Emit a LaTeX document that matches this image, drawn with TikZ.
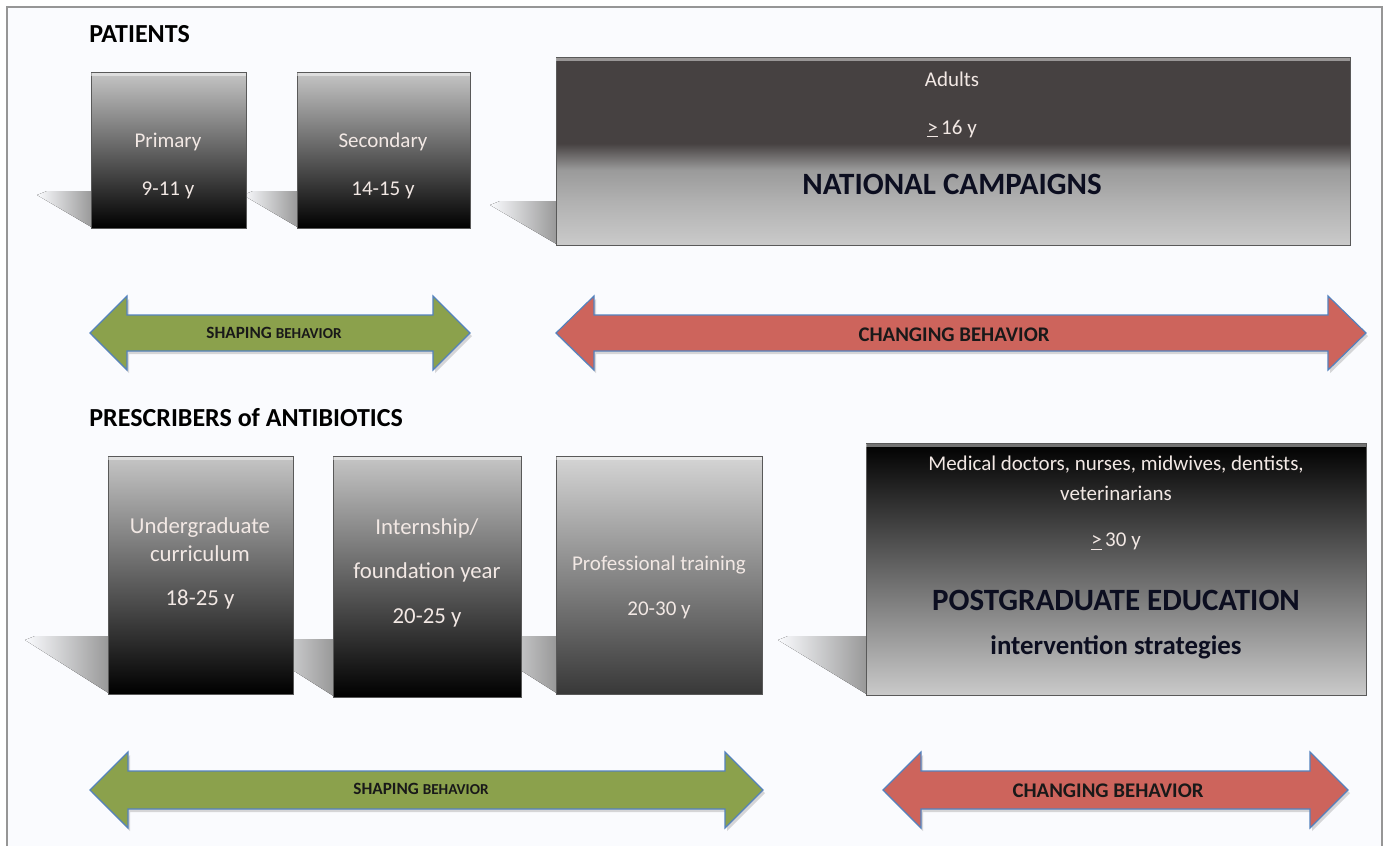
\documentclass[tikz,border=0pt]{standalone}
\usepackage{fontspec}
\setmainfont{Carlito}
\usetikzlibrary{shadows,calc}

\definecolor{bgpanel}{RGB}{250,251,254}
\definecolor{framegray}{RGB}{150,150,150}
\definecolor{shapegreen}{RGB}{139,161,76}
\definecolor{shapered}{RGB}{205,100,92}
\definecolor{arrowrim}{RGB}{84,130,190}
\definecolor{boxtxt}{RGB}{242,232,228}
\definecolor{navytxt}{RGB}{12,14,32}
\definecolor{natdark}{RGB}{70,65,65}
\definecolor{natmid}{RGB}{154,154,154}
\definecolor{natpale}{RGB}{176,176,176}
\definecolor{natlight}{RGB}{202,202,202}

\pgfdeclareverticalshading{natshade}{100bp}{color(0bp)=(natlight); color(25bp)=(natlight); color(37bp)=(natpale); color(45bp)=(natmid); color(52bp)=(natdark); color(100bp)=(natdark)}

\pgfdeclarelayer{bg}
\pgfdeclarelayer{shade}
\pgfsetlayers{bg,shade,main}

\begin{document}
\begin{tikzpicture}[x=0.5pt, y=-0.5pt,
    stagebox/.style={draw=black!65, line width=0.5pt, inner sep=0pt, outer sep=0pt, top color=gray!45, bottom color=black},
    boxtext/.style={text=boxtxt, font=\fontsize{10.5}{13}\selectfont, align=center, inner sep=1pt},
    bigtext/.style={text=navytxt, font=\fontsize{15.5}{18}\selectfont\bfseries, inner sep=1pt},
    heading/.style={font=\fontsize{13}{15}\selectfont\bfseries, anchor=west, inner sep=0pt},
    arrowlabel/.style={font=\fontsize{10.4}{12}\selectfont\bfseries, text=black!90, inner sep=1pt},
    twoway/.style={draw=arrowrim, line width=0.6pt, line join=miter, drop shadow={shadow xshift=1pt, shadow yshift=-1.6pt, opacity=.3}},
    shadowfill/.style={left color=bgpanel, right color=gray!82}]

  \useasboundingbox (0,0) rectangle (1384,846);
  \begin{pgfonlayer}{bg}
    \fill[bgpanel] (7,7) rectangle (1382,846);
    \draw[framegray, line width=1pt] (7,846) -- (7,7) -- (1382,7) -- (1382,846);
  \end{pgfonlayer}

  % patients
  \node[heading] (patients) at (89,34) {PATIENTS};

  \node[stagebox, minimum width=77.5pt, minimum height=78pt] (prim) at (168.5,150) {};
  \node[stagebox, minimum width=86.5pt, minimum height=78pt] (sec) at (383.5,150) {};
  \node[stagebox, shading=natshade, minimum width=397pt, minimum height=94pt] (nat) at (953,151) {};

  \node[boxtext] (prim-name) at (168,142) {Primary};
  \node[boxtext] (prim-age) at (168,190) {9-11 y};
  \node[boxtext] (sec-name) at (383,142) {Secondary};
  \node[boxtext] (sec-age) at (383,190) {14-15 y};
  \node[boxtext] (nat-who) at (952,79) {Adults};
  \node[boxtext] (nat-age) at (952,129) {\underline{>}\,16 y};
  \node[bigtext] (nat-title) at (952,184) {NATIONAL CAMPAIGNS};

  % arrows, upper row
  \draw[twoway, fill=shapegreen] (90,333) -- (127,296) -- (127,315) -- (433,315) -- (433,296) -- (470,333)
    -- (433,370) -- (433,351) -- (127,351) -- (127,370) -- cycle;
  \draw[twoway, fill=shapered] (556,333) -- (594,296) -- (594,315) -- (1328,315) -- (1328,296) -- (1366,333)
    -- (1328,370) -- (1328,351) -- (594,351) -- (594,370) -- cycle;
  \node[arrowlabel] (shape-up) at (274,333) {\fontsize{8.6}{10}\selectfont SHAPING \fontsize{7.6}{9}\selectfont BEHAVIOR};
  \node[arrowlabel] (change-up) at (954,335) {CHANGING BEHAVIOR};

  % prescribers
  \node[heading] (prescribers) at (89,418) {PRESCRIBERS of ANTIBIOTICS};

  \node[stagebox, minimum width=92.5pt, minimum height=119pt] (ugrad) at (200.5,575) {};
  \node[stagebox, minimum width=94pt, minimum height=120.5pt] (intern) at (427,576.5) {};
  \node[stagebox, top color=gray!33, bottom color=black!78, minimum width=103pt, minimum height=119pt] (prof) at (659,575) {};
  \node[stagebox, top color=black, middle color=black!72, bottom color=gray!42, minimum width=250pt, minimum height=126pt] (pgrad) at (1116,569) {};

  \node[boxtext, font=\fontsize{11.4}{14}\selectfont] (ugrad-name) at (200,540) {Undergraduate\\curriculum};
  \node[boxtext, font=\fontsize{11.4}{14}\selectfont] (ugrad-age) at (200,600) {18-25 y};
  \node[boxtext, font=\fontsize{11.4}{22}\selectfont] (intern-name) at (427,550) {Internship/\\foundation year};
  \node[boxtext, font=\fontsize{11.4}{14}\selectfont] (intern-age) at (427,618) {20-25 y};
  \node[boxtext] (prof-name) at (659,565) {Professional training};
  \node[boxtext] (prof-age) at (659,610) {20-30 y};
  \node[boxtext, font=\fontsize{10.5}{15}\selectfont] (pgrad-who) at (1116,478) {Medical doctors, nurses, midwives, dentists,\\veterinarians};
  \node[boxtext] (pgrad-age) at (1116,542) {\underline{>}\,30 y};
  \node[bigtext] (pgrad-title) at (1116,600) {POSTGRADUATE EDUCATION};
  \node[bigtext, font=\fontsize{13.4}{16}\selectfont\bfseries] (pgrad-sub) at (1116,647) {intervention strategies};

  % arrows, lower row
  \draw[twoway, fill=shapegreen] (90,790) -- (128,752) -- (128,771) -- (725,771) -- (725,752) -- (763,790)
    -- (725,828) -- (725,809) -- (128,809) -- (128,828) -- cycle;
  \draw[twoway, fill=shapered] (883,790) -- (921,752) -- (921,771) -- (1310,771) -- (1310,752) -- (1348,790)
    -- (1310,828) -- (1310,809) -- (921,809) -- (921,828) -- cycle;
  \node[arrowlabel] (shape-low) at (421,789) {\fontsize{8.6}{10}\selectfont SHAPING \fontsize{7.6}{9}\selectfont BEHAVIOR};
  \node[arrowlabel] (change-low) at (1108,791) {CHANGING BEHAVIOR};

  % bevel highlights and floor shadows
  \foreach \b in {prim,sec,nat,ugrad,intern,prof,pgrad}
    \draw[white, opacity=.45, line width=1.4pt] ([yshift=-1.2pt]\b.north west) -- ([yshift=-1.2pt]\b.north east);
  \begin{pgfonlayer}{shade}
    \foreach \b/\dx/\dy in {prim/54/33, sec/54/33, nat/66/40, ugrad/83/54, intern/83/54, prof/83/54, pgrad/88/55}
      \fill[shadowfill] ([xshift=1pt]\b.south west) -- ++(-\dx-2,-\dy) -- ++(10,-4) -- ($(\b.south west)+(2,-\dy-4)$) -- cycle;
  \end{pgfonlayer}
\end{tikzpicture}
\end{document}
